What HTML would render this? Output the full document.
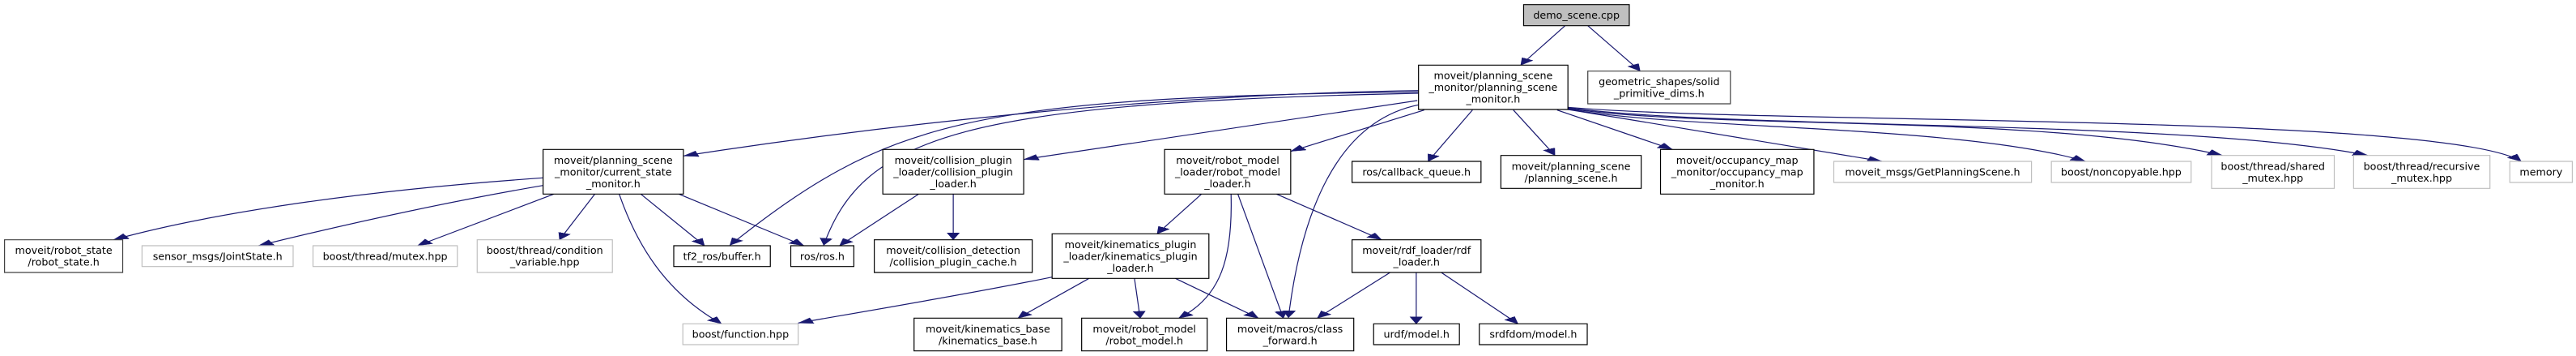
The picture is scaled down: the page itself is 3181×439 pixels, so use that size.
<!DOCTYPE html>
<html><head><meta charset="utf-8"><style>
html,body{margin:0;padding:0;background:#fff;}
svg{display:block;position:absolute;left:0;top:0;}
.b{fill:#fff;stroke:#000;stroke-width:1.2;}
.g{fill:#fff;stroke:#bfbfbf;stroke-width:1.2;}
.e{fill:none;stroke:#191970;stroke-width:1.2;marker-end:url(#a);}
text{font-family:"DejaVu Sans","Liberation Sans",sans-serif;font-size:12.7px;fill:#000;text-anchor:middle;}
</style></head><body>
<svg width="3181" height="439" viewBox="0 0 4534.5 1317" preserveAspectRatio="none" xmlns="http://www.w3.org/2000/svg">
<defs><marker id="a" markerUnits="userSpaceOnUse" markerWidth="30" markerHeight="26" refX="26" refY="11" orient="auto"><path d="M0,0 L26,11 L0,22 z" fill="#191970" stroke="#191970"/></marker></defs>
<path class="e" vector-effect="non-scaling-stroke" d="M2755,95 L2677,241"/>
<path class="e" vector-effect="non-scaling-stroke" d="M2795,95 L2887,263"/>
<path class="e" vector-effect="non-scaling-stroke" d="M2497,335 C2000,350 1500,480 1203,577"/>
<path class="e" vector-effect="non-scaling-stroke" d="M2497,340 C1700,360 1560,450 1285,907"/>
<path class="e" vector-effect="non-scaling-stroke" d="M2497,345 C1700,380 1520,500 1450,907"/>
<path class="e" vector-effect="non-scaling-stroke" d="M2497,388 C2350,450 2290,800 2268,1175"/>
<path class="e" vector-effect="non-scaling-stroke" d="M2495,372 L1802,590"/>
<path class="e" vector-effect="non-scaling-stroke" d="M2507,407 L2272,560"/>
<path class="e" vector-effect="non-scaling-stroke" d="M2592,407 L2514,597"/>
<path class="e" vector-effect="non-scaling-stroke" d="M2664,407 L2737,575"/>
<path class="e" vector-effect="non-scaling-stroke" d="M2741,407 L2944,553"/>
<path class="e" vector-effect="non-scaling-stroke" d="M2760,405 C2950,470 3150,540 3313,597"/>
<path class="e" vector-effect="non-scaling-stroke" d="M2760,403 C2950,480 3450,460 3671,597"/>
<path class="e" vector-effect="non-scaling-stroke" d="M2760,401 C3000,480 3600,420 3912,575"/>
<path class="e" vector-effect="non-scaling-stroke" d="M2760,399 C3050,480 3850,440 4168,575"/>
<path class="e" vector-effect="non-scaling-stroke" d="M2760,397 C3100,460 4300,420 4438,597"/>
<path class="e" vector-effect="non-scaling-stroke" d="M956,658 C600,710 350,800 200,887"/>
<path class="e" vector-effect="non-scaling-stroke" d="M956,686 C750,760 550,860 455,909"/>
<path class="e" vector-effect="non-scaling-stroke" d="M975,718 L735,909"/>
<path class="e" vector-effect="non-scaling-stroke" d="M1047,718 L985,887"/>
<path class="e" vector-effect="non-scaling-stroke" d="M1090,718 C1120,900 1170,1080 1270,1198"/>
<path class="e" vector-effect="non-scaling-stroke" d="M1128,718 L1240,909"/>
<path class="e" vector-effect="non-scaling-stroke" d="M1195,718 L1415,909"/>
<path class="e" vector-effect="non-scaling-stroke" d="M1617,718 L1478,909"/>
<path class="e" vector-effect="non-scaling-stroke" d="M1678,718 L1678,887"/>
<path class="e" vector-effect="non-scaling-stroke" d="M1852,1025 C1700,1090 1500,1160 1405,1195"/>
<path class="e" vector-effect="non-scaling-stroke" d="M1917,1030 L1792,1177"/>
<path class="e" vector-effect="non-scaling-stroke" d="M1997,1030 L2007,1177"/>
<path class="e" vector-effect="non-scaling-stroke" d="M2069,1030 L2215,1177"/>
<path class="e" vector-effect="non-scaling-stroke" d="M2115,718 L2037,865"/>
<path class="e" vector-effect="non-scaling-stroke" d="M2167,718 C2170,950 2150,1100 2075,1177"/>
<path class="e" vector-effect="non-scaling-stroke" d="M2179,718 L2259,1177"/>
<path class="e" vector-effect="non-scaling-stroke" d="M2247,718 L2432,887"/>
<path class="e" vector-effect="non-scaling-stroke" d="M2447,1008 L2319,1177"/>
<path class="e" vector-effect="non-scaling-stroke" d="M2493,1008 L2493,1198"/>
<path class="e" vector-effect="non-scaling-stroke" d="M2537,1008 L2672,1198"/>
<rect class="b" vector-effect="non-scaling-stroke" x="956" y="553" width="247" height="165"/>
<rect class="b" vector-effect="non-scaling-stroke" x="8" y="887" width="208" height="121" style="stroke:#404040"/>
<rect class="g" vector-effect="non-scaling-stroke" x="250" y="909" width="266" height="77"/>
<rect class="g" vector-effect="non-scaling-stroke" x="551" y="909" width="254" height="77"/>
<rect class="g" vector-effect="non-scaling-stroke" x="840" y="887" width="238" height="121"/>
<rect class="b" vector-effect="non-scaling-stroke" x="1186" y="909" width="170" height="77"/>
<rect class="b" vector-effect="non-scaling-stroke" x="1392" y="909" width="111" height="77"/>
<rect class="g" vector-effect="non-scaling-stroke" x="1202" y="1198" width="203" height="77"/>
<rect class="b" vector-effect="non-scaling-stroke" x="2682" y="17" width="186" height="78" style="fill:#bfbfbf"/>
<rect class="b" vector-effect="non-scaling-stroke" x="2497" y="241" width="263" height="164"/>
<rect class="b" vector-effect="non-scaling-stroke" x="2795" y="263" width="251" height="121" style="stroke:#404040"/>
<rect class="b" vector-effect="non-scaling-stroke" x="1554" y="553" width="248" height="165"/>
<rect class="b" vector-effect="non-scaling-stroke" x="2050" y="553" width="222" height="165"/>
<rect class="b" vector-effect="non-scaling-stroke" x="2380" y="597" width="227" height="78"/>
<rect class="b" vector-effect="non-scaling-stroke" x="2642" y="575" width="247" height="122"/>
<rect class="b" vector-effect="non-scaling-stroke" x="2923" y="553" width="270" height="165"/>
<rect class="b" vector-effect="non-scaling-stroke" x="1539" y="887" width="278" height="121"/>
<rect class="b" vector-effect="non-scaling-stroke" x="1852" y="865" width="276" height="165"/>
<rect class="b" vector-effect="non-scaling-stroke" x="2380" y="887" width="227" height="121"/>
<rect class="b" vector-effect="non-scaling-stroke" x="1609" y="1177" width="260" height="121"/>
<rect class="b" vector-effect="non-scaling-stroke" x="1904" y="1177" width="221" height="121"/>
<rect class="b" vector-effect="non-scaling-stroke" x="2159" y="1177" width="224" height="121"/>
<rect class="b" vector-effect="non-scaling-stroke" x="2418" y="1198" width="151" height="77"/>
<rect class="b" vector-effect="non-scaling-stroke" x="2604" y="1198" width="190" height="77"/>
<rect class="g" vector-effect="non-scaling-stroke" x="3228" y="597" width="348" height="78"/>
<rect class="g" vector-effect="non-scaling-stroke" x="3611" y="597" width="246" height="78"/>
<rect class="g" vector-effect="non-scaling-stroke" x="3893" y="575" width="216" height="122"/>
<rect class="g" vector-effect="non-scaling-stroke" x="4143" y="575" width="240" height="122"/>
<rect class="g" vector-effect="non-scaling-stroke" x="4418" y="597" width="110" height="78"/>
</svg>
<svg width="3181" height="439" viewBox="0 0 3181 439" xmlns="http://www.w3.org/2000/svg">
<text x="757.3" y="201.8">moveit/planning_scene</text><text x="757.3" y="216.3">_monitor/current_state</text><text x="757.3" y="230.8">_monitor.h</text>
<text x="78.6" y="313.1">moveit/robot_state</text><text x="78.6" y="327.6">/robot_state.h</text>
<text x="268.7" y="320.3">sensor_msgs/JointState.h</text>
<text x="475.6" y="320.3">boost/thread/mutex.hpp</text>
<text x="672.7" y="313.1">boost/thread/condition</text><text x="672.7" y="327.6">_variable.hpp</text>
<text x="891.6" y="320.3">tf2_ros/buffer.h</text>
<text x="1015.4" y="320.3">ros/ros.h</text>
<text x="914.4" y="416.7">boost/function.hpp</text>
<text x="1946.7" y="23.2">demo_scene.cpp</text>
<text x="1843.9" y="97.7">moveit/planning_scene</text><text x="1843.9" y="112.2">_monitor/planning_scene</text><text x="1843.9" y="126.7">_monitor.h</text>
<text x="2048.8" y="105.1">geometric_shapes/solid</text><text x="2048.8" y="119.6">_primitive_dims.h</text>
<text x="1177.1" y="201.8">moveit/collision_plugin</text><text x="1177.1" y="216.3">_loader/collision_plugin</text><text x="1177.1" y="230.8">_loader.h</text>
<text x="1516" y="201.8">moveit/robot_model</text><text x="1516" y="216.3">_loader/robot_model</text><text x="1516" y="230.8">_loader.h</text>
<text x="1749.2" y="216.5">ros/callback_queue.h</text>
<text x="1940" y="209.3">moveit/planning_scene</text><text x="1940" y="223.8">/planning_scene.h</text>
<text x="2145.2" y="201.8">moveit/occupancy_map</text><text x="2145.2" y="216.3">_monitor/occupancy_map</text><text x="2145.2" y="230.8">_monitor.h</text>
<text x="1177.1" y="313.1">moveit/collision_detection</text><text x="1177.1" y="327.6">/collision_plugin_cache.h</text>
<text x="1396" y="305.8">moveit/kinematics_plugin</text><text x="1396" y="320.3">_loader/kinematics_plugin</text><text x="1396" y="334.8">_loader.h</text>
<text x="1749.2" y="313.1">moveit/rdf_loader/rdf</text><text x="1749.2" y="327.6">_loader.h</text>
<text x="1219.9" y="409.8">moveit/kinematics_base</text><text x="1219.9" y="424.3">/kinematics_base.h</text>
<text x="1413.2" y="409.8">moveit/robot_model</text><text x="1413.2" y="424.3">/robot_model.h</text>
<text x="1593.1" y="409.8">moveit/macros/class</text><text x="1593.1" y="424.3">_forward.h</text>
<text x="1749.2" y="416.7">urdf/model.h</text>
<text x="1893.4" y="416.7">srdfdom/model.h</text>
<text x="2386.5" y="216.5">moveit_msgs/GetPlanningScene.h</text>
<text x="2619.4" y="216.5">boost/noncopyable.hpp</text>
<text x="2806.7" y="209.3">boost/thread/shared</text><text x="2806.7" y="223.8">_mutex.hpp</text>
<text x="2990.5" y="209.3">boost/thread/recursive</text><text x="2990.5" y="223.8">_mutex.hpp</text>
<text x="3137.9" y="216.5">memory</text>
</svg>
</body></html>
